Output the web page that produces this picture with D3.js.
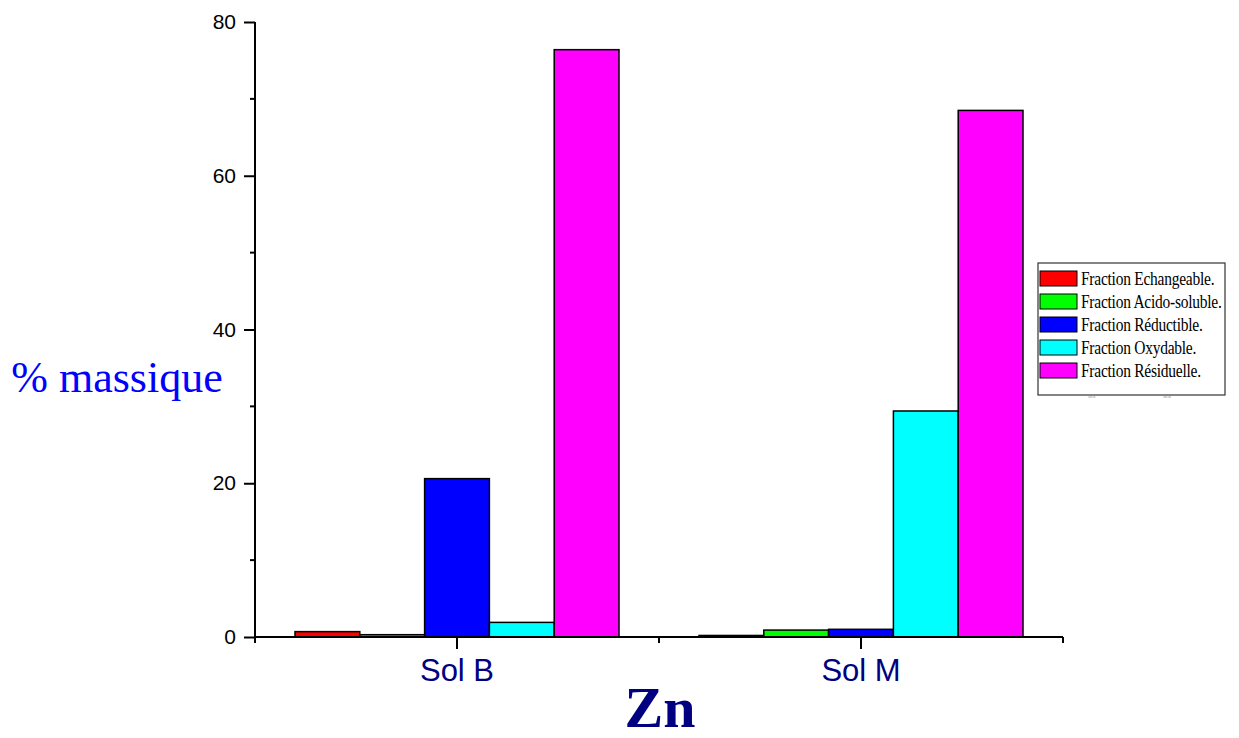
<!DOCTYPE html>
<html>
<head>
<meta charset="utf-8">
<script src="https://cdn.jsdelivr.net/npm/d3@7"></script>
<style>
  html, body { margin: 0; padding: 0; background: #fff; }
  svg { display: block; }
</style>
</head>
<body>
<svg id="chart" width="1239" height="738"></svg>
<script>
// Zn fractionation in two soils (% by mass)
const soils = ["Sol B", "Sol M"];
const fractions = [
  "Fraction Echangeable.",
  "Fraction Acido-soluble.",
  "Fraction Réductible.",
  "Fraction Oxydable.",
  "Fraction Résiduelle."
];
const fractionColors = ["#ff0000", "#00ff00", "#0000ff", "#00ffff", "#ff00ff"];
const solB = [0.7, 0.3, 20.6, 1.9, 76.4];
const solM = [0.2, 0.9, 1.0, 29.4, 68.5];
const yTicks = [0, 20, 40, 60, 80];
const yMinorTicks = [10, 30, 50, 70];

const seriesBySoil = [solB, solM];

const svg = d3.select("#chart");
const plotLeft = 255, plotRight = 1063, plotTop = 22, plotBottom = 637;

const x = d3.scaleBand().domain(soils).range([plotLeft, plotRight]).paddingInner(0).paddingOuter(0);
const xInner = d3.scaleBand().domain(fractions).range([0, 324]);
const y = d3.scaleLinear().domain([0, 80]).range([plotBottom, plotTop]);

// bars
soils.forEach((soil, si) => {
  const groupStart = x(soil) + x.bandwidth() / 2 - xInner.range()[1] / 2;
  const g = svg.append("g").attr("transform", `translate(${groupStart},0)`);
  g.selectAll("rect")
    .data(fractions.map((f, i) => ({ f, v: seriesBySoil[si][i], c: fractionColors[i] })))
    .join("rect")
    .attr("x", d => xInner(d.f))
    .attr("width", xInner.bandwidth())
    .attr("y", d => y(d.v))
    .attr("height", d => y(0) - y(d.v))
    .attr("fill", d => d.c)
    .attr("stroke", "#000")
    .attr("stroke-width", 1.5);
});

// y axis
const yAxis = d3.axisLeft(y).tickValues(yTicks).tickSize(11).tickPadding(8).tickFormat(d3.format("d"));
const gy = svg.append("g").attr("transform", `translate(${plotLeft},0)`).call(yAxis);
gy.select(".domain").attr("stroke-width", 2).attr("d", `M0,${plotTop}V${plotBottom}`);
gy.selectAll(".tick line").attr("stroke-width", 2);
gy.selectAll(".tick text").attr("font-family", "Arial, 'Liberation Sans', sans-serif").attr("font-size", 21).attr("fill", "#000");
gy.selectAll(".minor").data(yMinorTicks).join("line")
  .attr("class", "minor")
  .attr("x1", -5).attr("x2", 0)
  .attr("y1", d => y(d)).attr("y2", d => y(d))
  .attr("stroke", "#000").attr("stroke-width", 2);

// x axis
const xAxis = d3.axisBottom(x).tickSize(12).tickPadding(0);
const gx = svg.append("g").attr("transform", `translate(0,${plotBottom})`).call(xAxis);
gx.select(".domain").attr("stroke-width", 2).attr("d", `M${plotLeft},0H${plotRight}`);
gx.selectAll(".tick line").attr("stroke-width", 2);
gx.selectAll(".tick text")
  .attr("font-family", "Arial, 'Liberation Sans', sans-serif")
  .attr("font-size", 31).attr("fill", "#000080")
  .attr("y", 44).attr("dy", 0);
// band boundaries
const bounds = [plotLeft, x(soils[1]), plotRight];
gx.selectAll(".bound").data(bounds).join("line")
  .attr("class", "bound")
  .attr("x1", d => d).attr("x2", d => d)
  .attr("y1", 0).attr("y2", 6)
  .attr("stroke", "#000").attr("stroke-width", 2);

// axis titles
svg.append("text")
  .attr("x", 117).attr("y", 392)
  .attr("text-anchor", "middle")
  .attr("font-family", "'Times New Roman', 'Liberation Serif', serif")
  .attr("font-size", 44).attr("fill", "#0000ff")
  .text("% massique");

svg.append("text")
  .attr("x", 660).attr("y", 727)
  .attr("text-anchor", "middle")
  .attr("font-family", "'Times New Roman', 'Liberation Serif', serif")
  .attr("font-weight", "bold")
  .attr("font-size", 58).attr("fill", "#000080")
  .text("Zn");

// legend
const legend = svg.append("g").attr("transform", "translate(1038,263)");
legend.append("rect")
  .attr("x", 0).attr("y", 0).attr("width", 187).attr("height", 132)
  .attr("fill", "#fff").attr("stroke", "#333").attr("stroke-width", 1.2);
const rows = legend.selectAll(".row").data(fractions).join("g")
  .attr("class", "row")
  .attr("transform", (d, i) => `translate(2,${8 + i * 23})`);
rows.append("rect")
  .attr("width", 37).attr("height", 15)
  .attr("fill", (d, i) => fractionColors[i])
  .attr("stroke", "#000").attr("stroke-width", 1);
// condensed serif labels
rows.append("text")
  .attr("transform", "translate(41,14) scale(0.815,1)")
  .attr("font-family", "'Times New Roman', 'Liberation Serif', serif")
  .attr("font-size", 19).attr("letter-spacing", -0.3).attr("fill", "#000")
  .text(d => d);
legend.selectAll(".tiny").data(soils).join("text")
  .attr("class", "tiny")
  .attr("x", (d, i) => 50 + i * 75).attr("y", 135)
  .attr("font-family", "Arial, sans-serif").attr("font-size", 3).attr("fill", "#888")
  .text(d => d);
</script>
</body>
</html>
